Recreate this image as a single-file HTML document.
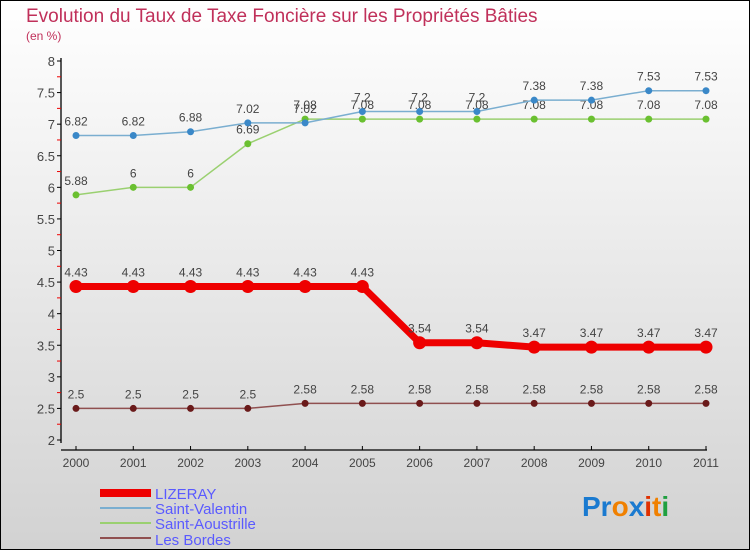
<!DOCTYPE html>
<html><head><meta charset="utf-8"><style>
body{margin:0}
svg{display:block;font-family:"Liberation Sans",sans-serif}
</style></head><body>
<svg id="c" width="750" height="550">
<defs><linearGradient id="bg" x1="0" y1="0" x2="0" y2="1"><stop offset="0" stop-color="#ffffff"/><stop offset="1" stop-color="#d2d2d2"/></linearGradient></defs>
<rect x="0.5" y="0.5" width="749" height="549" fill="url(#bg)" stroke="#000"/>
<text x="26" y="22" font-size="19" fill="#c0305a">Evolution du Taux de Taxe Foncière sur les Propriétés Bâties</text>
<text x="26" y="40" font-size="12" fill="#c0305a">(en %)</text>
<g id="axes"></g><g id="series"></g>
<g>
<rect x="100" y="489" width="51" height="8" fill="#e00"/>
<text x="155" y="499" font-size="15" fill="#5a5aff">LIZERAY</text>
<line x1="100" y1="508" x2="151" y2="508" stroke="#7aaed0" stroke-width="2"/>
<text x="155" y="514" font-size="15" fill="#5a5aff">Saint-Valentin</text>
<line x1="100" y1="523" x2="151" y2="523" stroke="#9ad070" stroke-width="2"/>
<text x="155" y="529" font-size="15" fill="#5a5aff">Saint-Aoustrille</text>
<line x1="100" y1="538" x2="151" y2="538" stroke="#905050" stroke-width="2"/>
<text x="155" y="545" font-size="15" fill="#5a5aff">Les Bordes</text>
</g>
<g font-size="28" font-weight="bold">
<text x="582" y="516"><tspan fill="#1a7ad0">Pr</tspan><tspan fill="#f08000">o</tspan><tspan fill="#1a7ad0">x</tspan><tspan fill="#e03000">i</tspan><tspan fill="#f08000">t</tspan><tspan fill="#20a040">i</tspan></text>
</g>
</svg>
<script>
const years=["2000","2001","2002","2003","2004","2005","2006","2007","2008","2009","2010","2011"];
const yTicks=[2,2.5,3,3.5,4,4.5,5,5.5,6,6.5,7,7.5,8];
const lizeray=[4.43,4.43,4.43,4.43,4.43,4.43,3.54,3.54,3.47,3.47,3.47,3.47];
const saintValentin=[6.82,6.82,6.88,7.02,7.02,7.2,7.2,7.2,7.38,7.38,7.53,7.53];
const saintAoustrille=[5.88,6,6,6.69,7.08,7.08,7.08,7.08,7.08,7.08,7.08,7.08];
const lesBordes=[2.5,2.5,2.5,2.5,2.58,2.58,2.58,2.58,2.58,2.58,2.58,2.58];
const NS="http://www.w3.org/2000/svg";
const X=i=>76+i*(630/(years.length-1));
const Y=v=>440-(v-2)*(379/6);
function mk(t,a,p){const e=document.createElementNS(NS,t);for(const k in a)e.setAttribute(k,a[k]);p.appendChild(e);return e;}
const ax=document.getElementById('axes');
let e=mk('line',{x1:61,y1:58,x2:61,y2:443,stroke:'#000','stroke-width':1.3},ax);


e=mk('line',{x1:61,y1:450,x2:707,y2:450,stroke:'#000','stroke-width':1.3},ax);


yTicks.forEach(v=>{
  mk('line',{x1:57,y1:Y(v),x2:61,y2:Y(v),stroke:'#000'},ax);
  if(v<8) mk('line',{x1:57,y1:Y(v+0.25),x2:61,y2:Y(v+0.25),stroke:'#e00'},ax);
  const t=mk('text',{x:55,y:Y(v)+5,'font-size':13,fill:'#444','text-anchor':'end'},ax);
  t.textContent=String(v);
  
  
});
years.forEach((y,i)=>{
  mk('line',{x1:X(i),y1:446,x2:X(i),y2:450,stroke:'#000'},ax);
  const t=mk('text',{x:X(i),y:467,'font-size':12,fill:'#444','text-anchor':'middle'},ax);
  t.textContent=y;
  
  
});
const sg=document.getElementById('series');
function series(vals,line,dot,w,r,name){
  const g=mk('g',{},sg);
  
  
  const p=mk('polyline',{points:vals.map((v,i)=>X(i)+','+Y(v)).join(' '),fill:'none',stroke:line,'stroke-width':w,'stroke-linejoin':'round'},g);
  
  
  vals.forEach((v,i)=>{
    const c=mk('circle',{cx:X(i),cy:Y(v),r:r,fill:dot},g);
    
    
    const t=mk('text',{x:X(i),y:Y(v)-10,'font-size':12,fill:'#444','text-anchor':'middle'},g);
    t.textContent=String(v);
    
    
  });
}
series(lesBordes,'#905050','#6a1a1a',1.5,3.5,'les-bordes');
series(saintAoustrille,'#9ad070','#6ac030',1.5,3.5,'saint-aoustrille');
series(saintValentin,'#7aaed0','#3a88c8',1.5,3.5,'saint-valentin');
series(lizeray,'#e00','#e00',7,6.5,'lizeray');
</script>
</body></html>
